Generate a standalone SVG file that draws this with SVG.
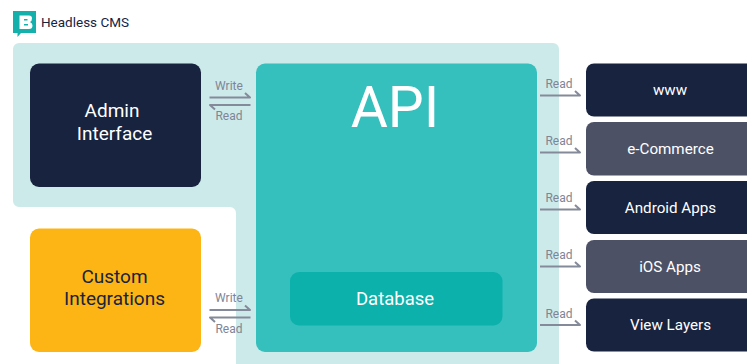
<svg xmlns="http://www.w3.org/2000/svg" width="747" height="364" viewBox="0 0 747 364">
<style>
text{font-family:Roboto,"Liberation Sans",sans-serif;text-anchor:middle}
.t{fill:#fff;font-size:19px;font-weight:450}
.o{fill:#fff;font-size:15.200px;font-weight:450}
.l{fill:#7f8595;font-size:12px}
.c{fill:none;stroke:#858a9a;stroke-width:2;stroke-linejoin:round}
</style>
<defs>
<path id="r" class="c" d="M0 0H40L35 -4.500"/>
<g id="rl"><use href="#r"/><text class="l" x="19" y="-7.500">Read</text></g>
</defs>
<path d="M13 49a6 6 0 0 1 6-6H553a6 6 0 0 1 6 6V364H236V213a6 6 0 0 0-6-6H19a6 6 0 0 1-6-6Z" fill="#cdeaea"/>
<g id="logo">
<path d="M13 11H36V33H21L17.500 37V33H13Z" fill="#14b0ac"/>
<path d="M19.500 15.500H29Q32 15.500 32 18.500Q32 21 30 22Q32.500 23 32.500 25.500Q32.500 29 29 29H19.500ZM24 19V20.500H27.500V19ZM24 24V25.500H28V24Z" fill="#fff" fill-rule="evenodd"/>
<text x="85" y="26.500" style="font-size:13.500px;font-weight:450" fill="#18233f">Headless CMS</text>
</g>
<g id="admin"><rect x="30" y="63.500" width="171" height="123.500" rx="9" fill="#18233f"/><text class="t" x="112" y="117">Admin</text><text class="t" x="114.500" y="140">Interface</text></g>
<g id="custom"><rect x="30" y="228.500" width="171" height="123.500" rx="9" fill="#fdb515"/><text class="t" x="114.500" y="282.500" style="fill:#18233f">Custom</text><text class="t" x="114.500" y="305" style="fill:#18233f">Integrations</text></g>
<g id="api"><rect x="256" y="63.500" width="281" height="288.500" rx="9" fill="#35bfbd"/><text x="395" y="127" fill="#fff" style="font-size:57px;font-weight:450">API</text></g>
<g id="database"><rect x="290" y="272" width="212.500" height="53.500" rx="9" fill="#0db1ab"/><text class="t" x="395" y="305" style="font-size:18.500px">Database</text></g>
<g id="www"><rect x="586" y="63.500" width="175" height="53" rx="8" fill="#18233f"/><text class="o" x="670" y="95">www</text></g>
<g id="ecommerce"><rect x="586" y="122" width="175" height="53.500" rx="8" fill="#4d5166"/><text class="o" x="670.500" y="154">e-Commerce</text></g>
<g id="android"><rect x="586" y="181" width="175" height="53" rx="8" fill="#18233f"/><text class="o" x="670.500" y="212.500">Android Apps</text></g>
<g id="ios"><rect x="586" y="240" width="175" height="53" rx="8" fill="#4d5166"/><text class="o" x="670" y="271.500">iOS Apps</text></g>
<g id="view"><rect x="586" y="298.500" width="175" height="53" rx="8" fill="#18233f"/><text class="o" x="670.500" y="330">View Layers</text></g>
<g id="connectors">
<use href="#rl" x="540" y="95.500"/>
<use href="#rl" x="540" y="152.500"/>
<use href="#rl" x="540" y="209.500"/>
<use href="#rl" x="540" y="266.500"/>
<use href="#rl" x="540" y="325"/>
<path class="c" d="M209.500 97.500H250L245 93"/>
<path class="c" d="M250.500 105H210L215 109.500"/>
<text class="l" x="229" y="89.500">Write</text><text class="l" x="229" y="120">Read</text>
<path class="c" d="M209.500 310H250L245 305.500"/>
<path class="c" d="M250.500 317.500H210L215 322"/>
<text class="l" x="229" y="302">Write</text><text class="l" x="229" y="333">Read</text>
</g>
</svg>
